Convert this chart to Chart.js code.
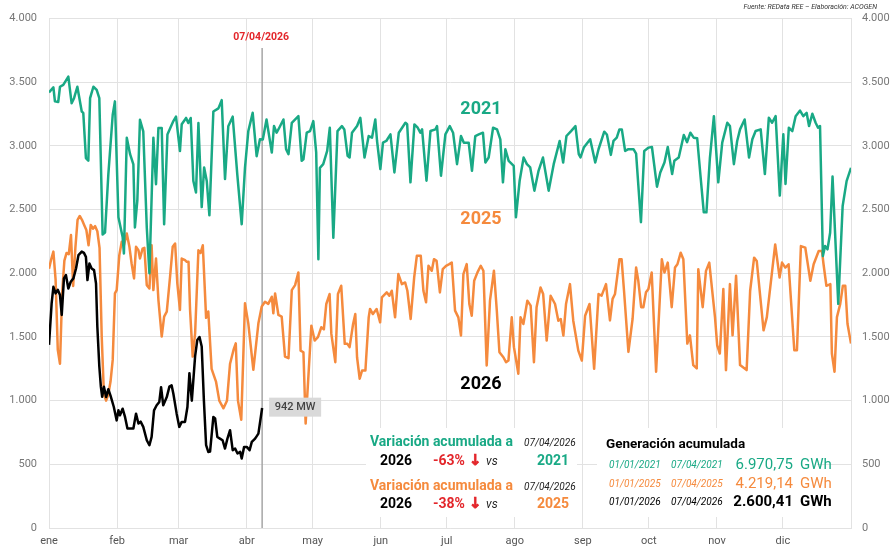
<!DOCTYPE html>
<html lang="es">
<head>
<meta charset="utf-8">
<title>Generación diaria 2021 / 2025 / 2026</title>
<script src="https://cdn.jsdelivr.net/npm/chart.js@4.4.1/dist/chart.umd.min.js"></script>
<style>
  html, body { margin: 0; padding: 0; background: #fff; }
</style>
</head>
<body>
<canvas id="chart" width="892" height="548"></canvas>
<script>
// Month ticks (day of year where each month starts)
const monthNames = ['ene', 'feb', 'mar', 'abr', 'may', 'jun', 'jul', 'ago', 'sep', 'oct', 'nov', 'dic'];
const monthStarts = [0, 31, 59, 90, 120, 151, 181, 212, 243, 273, 304, 334];
const cutDay = 97; // 07/04

// 2021 - day of year / MW
const days2021 = [0, 2, 2.7, 4.2, 5, 6.5, 8.8, 10.3, 11.4, 12.9, 14.9, 15.6, 16.8, 17.9, 18.7, 20.2, 21.7, 22.9, 24.4, 25.5, 27, 29, 30, 31.6, 33.5, 34.1, 35.4, 36.9, 38.4, 39.1, 40.2, 41.4, 42.9, 44.5, 45.7, 47.5, 48.7, 49.8, 51.3, 52.4, 53.9, 56.6, 57.8, 59.6, 60.4, 62.4, 63.4, 64.5, 65.7, 66.9, 68, 69.5, 70.6, 71.8, 73, 74.8, 77.1, 78.6, 80.1, 81.6, 83.6, 85.7, 87.7, 89.2, 90.7, 92.7, 94.5, 96, 97.3, 99, 101.4, 102.4, 103.6, 104.8, 106.7, 107.9, 109, 110.5, 113.5, 115, 115.8, 117.3, 118.8, 120.3, 121.6, 122.6, 123.3, 124.8, 126.6, 127.8, 129.4, 131.3, 133.3, 134.4, 135.9, 136.8, 137.9, 140.2, 141.7, 143.6, 145.5, 147, 148.5, 149.3, 150.8, 152, 153.5, 155.4, 157.2, 159.2, 162.2, 163, 164.5, 166.3, 167.8, 169, 169.8, 171.8, 173.6, 175.9, 176.6, 178.4, 180.4, 182.4, 183.9, 185.7, 187.5, 188.8, 191, 192.5, 194, 195.6, 197.5, 198.6, 200.1, 202.1, 203.9, 205.4, 206.6, 207.7, 209.2, 211.5, 212.5, 214.2, 216, 217.5, 219, 220.9, 222.8, 224.8, 227.4, 229.7, 232.4, 234, 235.5, 237.6, 239.6, 241.1, 241.9, 243.4, 246.3, 248.6, 250.1, 252.7, 253.9, 255.7, 256.9, 258.4, 259.6, 260.7, 262.2, 263.7, 266, 267.2, 269.4, 270.9, 272.9, 274.4, 276.7, 278.2, 280.1, 281.6, 283.6, 284.6, 286.6, 288.9, 290.4, 291.9, 293.4, 295, 296.5, 298, 299.2, 300.8, 302.6, 304.6, 306.4, 308.7, 309.9, 311.7, 313.2, 314.5, 316.6, 318.6, 320.1, 321.6, 323.9, 325.8, 327.6, 329.1, 330.7, 332.6, 334.2, 335.2, 336.7, 338.3, 339.8, 341.8, 343.3, 344.8, 345.9, 347.4, 348.9, 350, 350.9, 352.2, 353.2, 354.3, 355.5, 356.6, 359.2, 361.2, 363, 365];
const mw2021 = [3420, 3460, 3350, 3345, 3465, 3480, 3545, 3335, 3375, 3465, 3270, 3260, 2905, 2885, 3375, 3465, 3440, 3375, 2305, 2320, 2775, 3245, 3350, 2440, 2285, 2155, 3065, 2935, 2855, 2360, 2570, 3205, 3115, 2360, 2000, 3065, 2700, 3140, 3140, 2385, 3090, 3195, 3230, 2960, 3170, 3220, 3180, 3220, 2725, 2635, 3180, 2520, 2830, 2725, 2455, 3270, 3295, 3360, 2740, 3155, 3230, 2775, 2385, 2830, 3115, 3260, 2920, 3052, 3050, 3208, 2948, 3156, 3104, 3143, 3208, 2974, 2935, 3182, 3234, 2883, 2895, 3104, 3117, 3195, 2950, 2111, 2828, 2857, 2961, 3143, 2280, 3117, 3156, 3130, 2922, 2909, 3104, 3156, 3221, 2909, 3078, 3065, 3208, 3039, 2818, 3026, 3039, 3091, 2792, 3104, 3182, 3170, 2714, 3169, 3143, 3104, 3130, 2727, 3117, 3130, 3156, 2766, 3091, 3156, 3104, 2857, 3078, 3026, 3026, 2805, 3078, 3091, 3104, 2870, 2909, 3143, 3130, 3052, 2714, 2974, 2883, 2844, 2440, 2727, 2909, 2857, 2831, 2649, 2805, 2909, 2649, 2857, 3039, 2870, 3078, 3117, 3156, 2935, 2910, 2987, 3052, 2870, 2974, 3112, 3090, 2930, 3039, 3065, 3130, 3130, 2961, 2975, 2975, 2940, 2401, 2961, 2987, 2992, 2680, 2792, 2870, 2992, 2779, 2883, 2909, 3086, 3030, 3104, 3065, 3060, 2766, 2479, 2479, 2909, 3234, 2714, 3026, 3182, 3156, 2857, 3039, 3130, 3208, 2909, 3052, 3117, 3130, 2779, 3221, 3182, 3234, 2610, 3091, 2701, 3143, 3117, 3234, 3278, 3234, 3260, 3156, 3253, 3182, 3143, 3156, 2136, 2214, 2188, 2318, 2760, 1760, 2528, 2724, 2828];

// 2025 - day of year / MW
const days2025 = [0, 1, 2, 3, 4, 5, 6, 7, 8, 9, 10, 11, 12, 13, 14, 15, 16, 17, 18, 19, 20, 21, 22, 23, 24, 25, 26, 27, 28, 29, 30, 30.8, 32, 33.1, 34.1, 35.4, 36.6, 37.6, 38.7, 39.6, 40.7, 41.4, 42.6, 43.4, 44.5, 45.7, 46.7, 47.5, 48.7, 49.8, 51.3, 52.4, 53.6, 55.1, 56.3, 57.4, 58.4, 59.6, 60.4, 61.9, 62.7, 63.5, 64.2, 65.4, 66.5, 68, 69, 70, 71.5, 72.5, 74, 76, 77.5, 79.4, 81, 82.4, 84, 85, 86, 87.5, 89.2, 90.7, 93, 95.3, 96.8, 98.3, 99.8, 101.4, 102.1, 102.9, 104.4, 105.9, 107.4, 109, 110.5, 112, 113.5, 114.5, 115.8, 116.8, 119.4, 120.9, 122.4, 123.9, 125.1, 126.2, 127.7, 128.5, 130.3, 131.5, 133, 134.6, 135.8, 136.8, 138.4, 139.4, 140.2, 141.4, 142.5, 144, 145.5, 146.1, 147.4, 149.1, 150.7, 151.5, 153.7, 154.9, 156, 157.5, 159, 160.6, 162.1, 163.1, 164.6, 166.2, 167.4, 169.2, 170.4, 171.6, 172.7, 174.2, 175.2, 176.4, 177.9, 179.2, 180.7, 182.2, 183.3, 184.8, 186.3, 187.5, 188.6, 190.1, 191.3, 192.4, 193.5, 195, 196.5, 197.7, 199.2, 200.7, 202.5, 203.8, 205, 206.8, 208, 209.1, 210.6, 211.6, 213.6, 214.6, 215.9, 217.7, 219.2, 220.7, 221.9, 223.7, 224.9, 226.5, 228.3, 230.3, 231.8, 232.9, 234.1, 235.3, 237.1, 238.6, 240.9, 242.5, 244, 246, 248.1, 250.1, 251.5, 253.5, 255.3, 256.5, 257.6, 259.6, 260.6, 261.7, 263.7, 265.6, 267.2, 268.2, 269.5, 270.5, 271.7, 272.8, 274.3, 276.3, 278.9, 280.1, 281.6, 283.4, 284.9, 286, 287.5, 288.7, 290.5, 291.7, 293.2, 294.8, 295.5, 297.5, 299, 300.5, 303.1, 304.1, 305.3, 306.9, 308.1, 309.9, 311.1, 312.7, 314.5, 317.5, 319.1, 320.9, 322.1, 325.2, 326.7, 330.5, 332.5, 333.6, 335.1, 336.6, 339.2, 340.4, 342.2, 344.2, 346.5, 348, 350.3, 351.8, 352.5, 353.8, 355.6, 356.3, 357.5, 358.6, 360.1, 361.3, 362.4, 363.4, 365];
const mw2025 = [2035, 2110, 2170, 1950, 1400, 1290, 1850, 2100, 2160, 2150, 2300, 1900, 2200, 2420, 2450, 2420, 2380, 2340, 2220, 2380, 2350, 2370, 2330, 2200, 1500, 1050, 1000, 1050, 1150, 1320, 1842, 1868, 2142, 2247, 2220, 2312, 2208, 2077, 1960, 2208, 2181, 2116, 2194, 2200, 1907, 1881, 2220, 1868, 2116, 1790, 1503, 1660, 1699, 1973, 2208, 2234, 1921, 1712, 2116, 2103, 2090, 2090, 1712, 1346, 1529, 2181, 2160, 2220, 1650, 1700, 1250, 1150, 1000, 940, 1000, 1290, 1400, 1450, 1000, 850, 1764, 1607, 1242, 1607, 1738, 1777, 1760, 1816, 1686, 1842, 1673, 1660, 1346, 1333, 1868, 1907, 2007, 1393, 1380, 820, 1589, 1472, 1498, 1576, 1560, 1759, 1837, 1524, 1302, 1837, 1902, 1446, 1446, 1420, 1602, 1680, 1341, 1172, 1237, 1237, 1654, 1720, 1680, 1720, 1615, 1811, 1850, 1824, 1863, 1654, 1994, 1915, 1928, 1863, 1641, 1968, 2137, 2137, 1863, 1772, 2059, 2020, 2111, 2098, 1850, 2033, 2059, 2072, 2085, 1707, 1654, 1511, 1994, 2072, 1759, 1667, 1941, 2007, 2059, 2020, 1276, 1785, 2020, 1707, 1380, 1341, 1302, 1315, 1654, 1420, 1211, 1654, 1602, 1785, 1746, 1302, 1733, 1889, 1837, 1472, 1824, 1759, 1628, 1641, 1511, 1759, 1915, 1628, 1393, 1315, 1667, 1759, 1250, 1837, 1825, 1915, 1630, 1799, 1838, 2110, 2110, 1863, 1383, 1643, 2045, 1941, 1734, 1734, 1851, 1877, 2006, 1227, 2110, 2006, 2084, 1734, 2045, 2071, 2162, 2110, 1448, 1513, 1279, 1253, 2032, 1734, 2019, 2084, 1656, 1435, 1370, 1877, 1240, 1915, 1513, 1980, 1279, 1240, 1863, 2123, 2097, 1552, 1656, 2227, 1967, 2084, 2045, 2071, 1396, 1396, 2214, 2201, 1941, 2071, 2175, 2175, 2071, 1902, 1915, 1370, 1227, 1656, 1760, 1902, 1902, 1604, 1448];

// 2026 - day of year / MW (hasta 07/04)
const days2026 = [0, 1.2, 2, 3, 4, 5, 5.8, 6.8, 7.7, 8.8, 9.9, 11.1, 12.3, 13.4, 14.9, 15.9, 16.8, 17.5, 18.4, 19.4, 20.5, 21.4, 22, 22.9, 23.6, 24.2, 25, 26, 27, 28, 29.5, 30.8, 31.6, 32.3, 33.5, 34.6, 35.7, 36.9, 38.4, 39.6, 40.7, 41.7, 42.9, 44.5, 45.7, 46.7, 47.8, 49, 50.2, 51, 52, 53.6, 54.8, 55.8, 56.6, 58.1, 59.3, 60.4, 61.9, 63, 63.9, 65, 66.5, 67.5, 68.5, 69.5, 70.5, 71.5, 72.5, 73.3, 74.8, 75.6, 76.6, 77.8, 79, 80.1, 81.2, 82.4, 83.6, 84.7, 85.8, 87, 87.7, 88.8, 90, 91.3, 92.3, 93.8, 95.3, 97];
const mw2026 = [1438, 1764, 1894, 1842, 1870, 1829, 1673, 1960, 1986, 1881, 1934, 1960, 2038, 2142, 2170, 2160, 2129, 1947, 2077, 2038, 2025, 1920, 1581, 1268, 1110, 1030, 1110, 1028, 1090, 1040, 950, 845, 924, 885, 937, 872, 781, 781, 781, 898, 820, 835, 794, 689, 650, 715, 924, 964, 990, 1106, 964, 1028, 1110, 1120, 1054, 898, 794, 833, 833, 950, 1216, 1000, 1350, 1477, 1500, 1425, 1000, 650, 597, 600, 872, 860, 715, 702, 689, 624, 702, 768, 611, 624, 585, 598, 546, 637, 637, 611, 676, 702, 741, 942];

// Accumulated tables
const accYears = ['2021', '2025', '2026'];
const accFrom = ['01/01/2021', '01/01/2025', '01/01/2026'];
const accTo = ['07/04/2021', '07/04/2025', '07/04/2026'];
const accGWh = ['6.970,75', '4.219,14', '2.600,41'];
const variation = ['-63%', '-38%'];

const GREEN = '#19a985';
const ORANGE = '#f58a3d';
const RED = '#e3262b';
const GRID = '#e2e2e2';
const FONT = 'Roboto';

const toPoints = (days, vals) => days.map((d, i) => ({ x: d, y: vals[i] }));
const fmt = v => String(v).replace(/\B(?=(\d{3})+(?!\d))/g, '.');

function txt(ctx, s, x, y, font, color, align) {
    ctx.font = font;
    ctx.fillStyle = color;
    ctx.textAlign = align || 'left';
    ctx.textBaseline = 'middle';
    ctx.fillText(s, x, y);
}

const annotations = {
    id: 'annotations',
    beforeDatasetsDraw(chart) {
        const { ctx, chartArea, scales: { x } } = chart;
        const px = x.getPixelForValue(cutDay);
        ctx.save();
        ctx.strokeStyle = '#a6a6a6';
        ctx.lineWidth = 1.5;
        ctx.beginPath();
        ctx.moveTo(px, 48);
        ctx.lineTo(px, chartArea.bottom);
        ctx.stroke();
        txt(ctx, accTo[2], px - 1, 37, 'bold 10.5px ' + FONT, RED, 'center');
        ctx.restore();
    },
    afterDatasetsDraw(chart) {
        const { ctx, scales: { x, y } } = chart;
        ctx.save();
        // last value label
        const lx = x.getPixelForValue(days2026[days2026.length - 1]);
        const ly = y.getPixelForValue(1000);
        ctx.fillStyle = '#d9d9d9';
        ctx.fillRect(lx + 7, ly - 3, 52, 19);
        txt(ctx, mw2026[mw2026.length - 1] + ' MW', lx + 33, ly + 7, '500 11px ' + FONT, '#444', 'center');

        // series names
        txt(ctx, accYears[0], 481, 109, 'bold 18px ' + FONT, GREEN, 'center');
        txt(ctx, accYears[1], 481, 219, 'bold 18px ' + FONT, ORANGE, 'center');
        txt(ctx, accYears[2], 481, 384, 'bold 18px ' + FONT, '#000', 'center');

        // table backgrounds
        ctx.fillStyle = '#fff';
        ctx.fillRect(366, 428, 211, 89);
        ctx.fillRect(597, 428, 220, 89);

        // variation table
        const rowsV = [[442, 461, GREEN, accYears[0]], [486, 504, ORANGE, accYears[1]]];
        rowsV.forEach((r, i) => {
            txt(ctx, 'Variación acumulada a', 370, r[0], 'bold 14px ' + FONT, r[2]);
            txt(ctx, accTo[2], 524, r[0] + 1, 'italic 10px ' + FONT, '#222');
            txt(ctx, accYears[2], 380, r[1], 'bold 14px ' + FONT, '#000');
            txt(ctx, variation[i], 433, r[1], 'bold 14px ' + FONT, RED);
            txt(ctx, '↓', 469, r[1], 'bold 15px "DejaVu Sans"', RED);
            ctx.strokeStyle = RED;
            ctx.lineWidth = 0.7;
            ctx.strokeText('↓', 469, r[1]);
            txt(ctx, 'vs', 486, r[1] + 1, 'italic 12px ' + FONT, '#222');
            txt(ctx, r[3], 537, r[1], 'bold 14px ' + FONT, r[2]);
        });

        // accumulated generation
        txt(ctx, 'Generación acumulada', 606, 445, 'bold 13.5px ' + FONT, '#000');
        const cols = [GREEN, ORANGE, '#000'];
        [465, 484, 502].forEach((ry, i) => {
            const bold = i === 2;
            txt(ctx, accFrom[i], 609, ry, 'italic 10px ' + FONT, cols[i]);
            txt(ctx, accTo[i], 671, ry, 'italic 10px ' + FONT, cols[i]);
            txt(ctx, accGWh[i], 793, ry, (bold ? 'bold ' : '') + '15px ' + FONT, cols[i], 'right');
            txt(ctx, 'GWh', 800, ry, (bold ? 'bold ' : '') + '15px ' + FONT, cols[i]);
        });

        // source
        txt(ctx, 'Fuente: REData REE – Elaboración: ACOGEN', 877, 7, 'italic 7px ' + FONT, '#333', 'right');
        ctx.restore();
    }
};

const yAxis = (position, onChart, width) => ({
    position: position,
    min: 0,
    max: 4000,
    afterFit: axis => { axis.width = width; },
    ticks: {
        stepSize: 500,
        color: '#777',
        padding: position === 'left' ? 12 : 11,
        font: { family: FONT, size: 11 },
        callback: v => fmt(v)
    },
    grid: { color: GRID, drawTicks: false, drawOnChartArea: onChart },
    border: { color: GRID }
});

new Chart(document.getElementById('chart'), {
    type: 'line',
    data: {
        datasets: [{
            label: '2026',
            data: toPoints(days2026, mw2026),
            borderColor: '#000',
            borderWidth: 2.5,
            order: 1
        }, {
            label: '2021',
            data: toPoints(days2021, mw2021),
            borderColor: GREEN,
            borderWidth: 2.5,
            order: 2
        }, {
            label: '2025',
            data: toPoints(days2025, mw2025),
            borderColor: ORANGE,
            borderWidth: 2.5,
            order: 3
        }]
    },
    options: {
        responsive: false,
        animation: false,
        elements: {
            point: { radius: 0 },
            line: { tension: 0, borderJoinStyle: 'round' }
        },
        layout: { padding: { top: 17, left: 0, right: 0, bottom: 0 } },
        plugins: {
            legend: { display: false },
            tooltip: { enabled: false }
        },
        scales: {
            x: {
                type: 'linear',
                min: 0,
                max: 365,
                afterFit: axis => { axis.height = 20; },
                afterBuildTicks: axis => {
                    axis.ticks = monthStarts.map(v => ({ value: v }));
                },
                ticks: {
                    autoSkip: false,
                    maxRotation: 0,
                    color: '#555',
                    padding: 7,
                    font: { family: FONT, size: 11 },
                    callback: v => monthNames[monthStarts.indexOf(v)]
                },
                grid: { color: GRID, drawTicks: false },
                border: { color: GRID }
            },
            y: yAxis('left', true, 49),
            y2: yAxis('right', false, 41)
        }
    },
    plugins: [annotations]
});
</script>
</body>
</html>
